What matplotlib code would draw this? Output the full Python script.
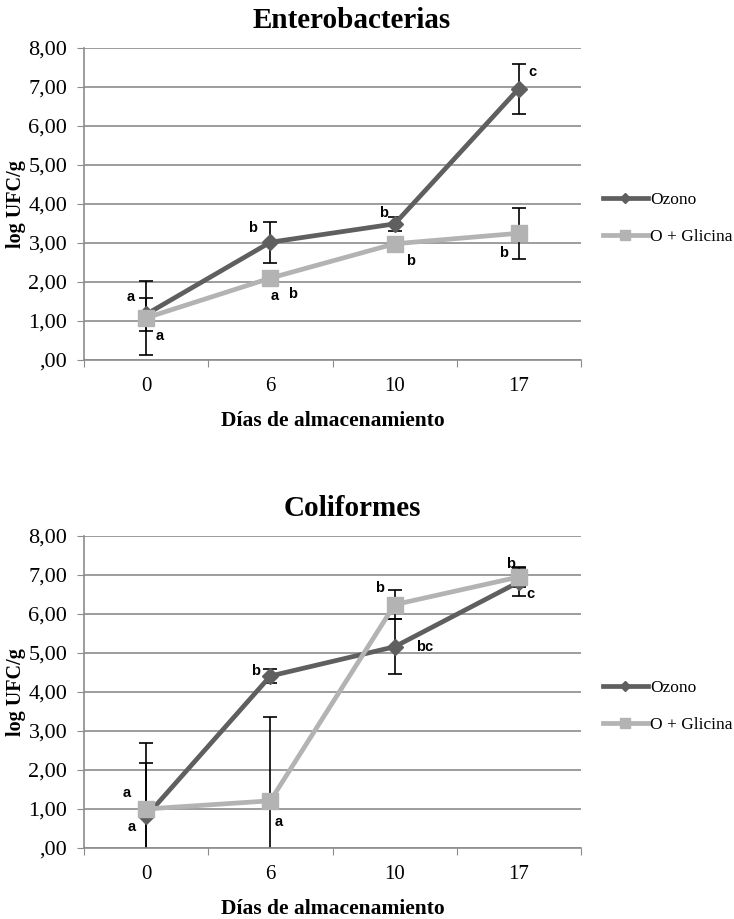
import matplotlib
matplotlib.use("Agg")
import matplotlib.pyplot as plt
import numpy as np

# storage days (categories)
days = ['0', '6', '10', '17']
ytick_vals = [0, 1, 2, 3, 4, 5, 6, 7, 8]
ytick_labels = [',00', '1,00', '2,00', '3,00', '4,00', '5,00', '6,00', '7,00', '8,00']
series_names = ['Ozono', 'O + Glicina']

# Enterobacterias
ent_ozono = [1.17, 3.02, 3.49, 6.96]
ent_ozono_err = [0.42, 0.52, 0.17, 0.64]
ent_glicina = [1.08, 2.10, 2.98, 3.25]
ent_glicina_err = [0.95, 0.0, 0.0, 0.66]
ent_letters = [(0, 0, 'a'), (1, 0, 'a'), (0, 1, 'b'), (1, 1, 'a'), (1, 1, 'b'),
               (0, 2, 'b'), (1, 2, 'b'), (1, 3, 'b'), (0, 3, 'c')]

# Coliformes
col_ozono = [0.81, 4.41, 5.16, 6.82]
col_ozono_err = [1.89, 0.19, 0.71, 0.35]
col_glicina = [1.00, 1.21, 6.24, 6.95]
col_glicina_err = [1.17, 2.15, 0.38, 0.26]
col_letters = [(1, 0, 'a'), (0, 0, 'a'), (0, 1, 'b'), (1, 1, 'a'),
               (1, 2, 'b'), (0, 2, 'bc'), (1, 3, 'b'), (0, 3, 'c')]

# letter offsets in pixels (same order as the letters lists)
ent_offsets = [(-15, 17), (14, -18), (-18, 14), (4, -18), (22, -16),
               (-11, 11), (16, -17), (-15, -20), (14, 17)]
col_offsets = [(-19, 16), (-14, -11), (-15, 5), (8, -21),
               (-15, 17), (30, 0), (-8, 13), (12, -12)]

serif = 'Liberation Serif'
c_ozono = '#5f5f5f'
c_glic = '#b3b3b3'
grid_c = '#8c8c8c'

W, H = 734, 919
fig = plt.figure(figsize=(W / 100, H / 100), dpi=100)


def px(x0, y0, x1, y1):
    # pixel box -> figure fraction rect
    return [x0 / W, 1 - y1 / H, (x1 - x0) / W, (y1 - y0) / H]


def draw_panel(ax, title, ozono, ozono_err, glic, glic_err, letters, offsets, title_y):
    x = np.arange(len(days))
    ax.errorbar(x, ozono, yerr=ozono_err, fmt='none', ecolor='black',
                elinewidth=1.2, capsize=4.7, capthick=1.2, zorder=2)
    ax.errorbar(x, glic, yerr=glic_err, fmt='none', ecolor='black',
                elinewidth=1.2, capsize=4.7, capthick=1.2, zorder=2)
    l1, = ax.plot(x, ozono, color=c_ozono, lw=3.4, marker='D', ms=8.5,
                  mec=c_ozono, mfc=c_ozono, zorder=3, label=series_names[0])
    l2, = ax.plot(x, glic, color=c_glic, lw=3.4, marker='s', ms=12,
                  mec=c_glic, mfc=c_glic, zorder=4, label=series_names[1])

    vals = [ozono, glic]
    for (s, i, t), (dx, dy) in zip(letters, offsets):
        ax.annotate(t, (x[i], vals[s][i]), xytext=(dx, dy), textcoords='offset pixels',
                    ha='center', va='center', fontsize=10.5, fontweight='bold',
                    family='Liberation Sans', zorder=6)

    ax.set_xlim(-0.5, len(days) - 0.5)
    ax.set_ylim(0, 8)
    ax.set_yticks(ytick_vals)
    ax.set_yticklabels(ytick_labels, family=serif, fontsize=16)
    ax.set_xticks(np.arange(-0.5, len(days), 1.0))
    ax.set_xticklabels([])
    ax.set_xticks(x, minor=True)
    ax.set_xticklabels(days, minor=True, family=serif, fontsize=15)
    ax.tick_params(axis='x', which='major', length=5, color=grid_c, direction='out')
    ax.tick_params(axis='x', which='minor', length=0, pad=12)
    ax.tick_params(axis='y', length=5, color=grid_c, direction='out', pad=7)
    ax.yaxis.grid(True, color=grid_c, lw=1.2)
    ax.set_axisbelow(True)
    for s in ['top', 'right']:
        ax.spines[s].set_visible(False)
    for s in ['left', 'bottom']:
        ax.spines[s].set_color(grid_c)
        ax.spines[s].set_linewidth(1.2)

    ax.set_xlabel('Días de almacenamiento', family=serif, fontsize=15.5,
                  fontweight='bold', labelpad=11)
    ax.set_ylabel('log UFC/g', family=serif, fontsize=14.5, fontweight='bold', labelpad=2)
    fig.text(352 / W, 1 - title_y / H, title, family=serif, fontsize=21,
             fontweight='bold', ha='center', va='center')

    ax.legend(handles=[l1, l2], loc='center left', bbox_to_anchor=(1.044, 0.455),
              frameon=False, prop={'family': serif, 'size': 12.5}, handlelength=2.6,
              handletextpad=0.12, labelspacing=1.2, borderpad=0, borderaxespad=0,
              markerscale=0.55)


ax1 = fig.add_axes(px(84, 48, 581, 360))
draw_panel(ax1, 'Enterobacterias', ent_ozono, ent_ozono_err, ent_glicina, ent_glicina_err,
           ent_letters, ent_offsets, 20)

ax2 = fig.add_axes(px(84, 536, 581, 848))
draw_panel(ax2, 'Coliformes', col_ozono, col_ozono_err, col_glicina, col_glicina_err,
           col_letters, col_offsets, 508)

fig.savefig('out.png', dpi=100)
